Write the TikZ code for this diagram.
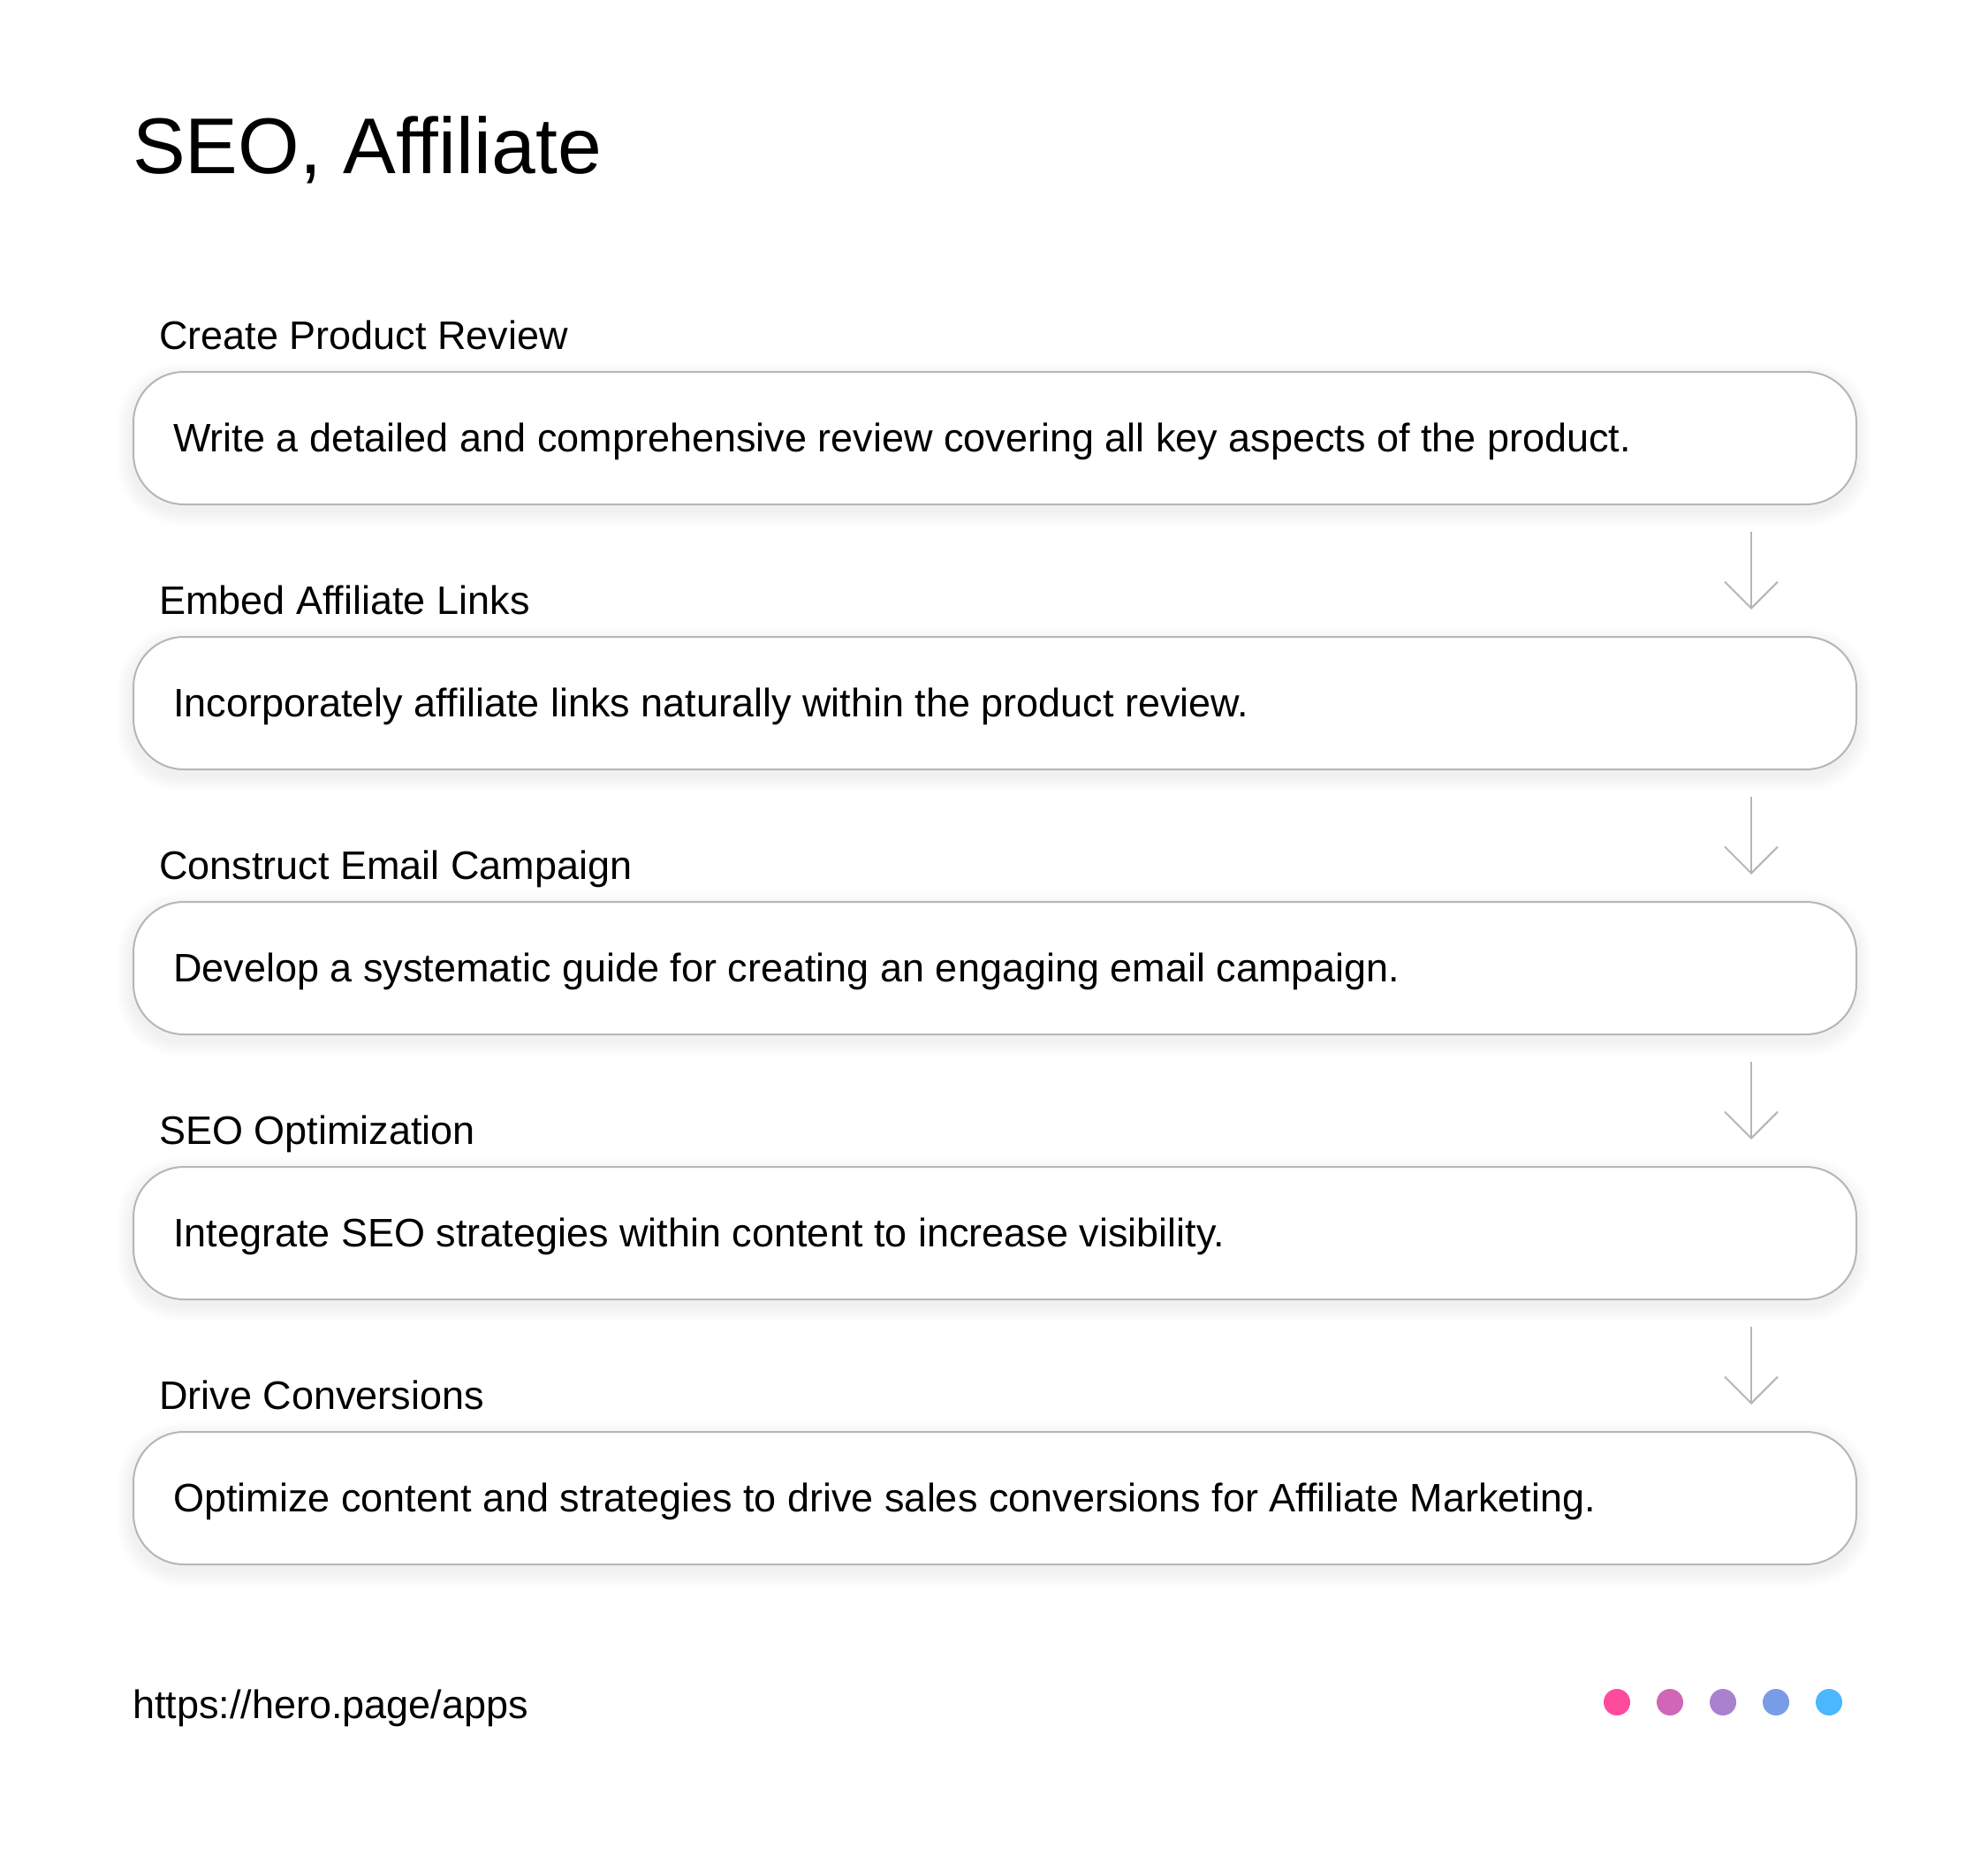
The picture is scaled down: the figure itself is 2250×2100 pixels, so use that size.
\documentclass[tikz,border=0pt]{standalone}
\usepackage{fontspec}
\setmainfont{Liberation Sans}
\usetikzlibrary{arrows.meta,calc}
\definecolor{edgegray}{RGB}{182,182,182}
\definecolor{dotA}{RGB}{255,75,155}
\definecolor{dotB}{RGB}{208,102,182}
\definecolor{dotC}{RGB}{168,130,205}
\definecolor{dotD}{RGB}{120,156,230}
\definecolor{dotE}{RGB}{75,183,255}
\tikzset{
  stepbox/.style={draw=edgegray, line width=2pt, fill=white, rounded corners=57pt,
    minimum width=1949pt, minimum height=150pt, inner sep=0pt, anchor=north west},
  steplabel/.style={anchor=base west, inner sep=0pt, font=\fontsize{45}{54}\selectfont},
  steptext/.style={anchor=base west, inner sep=0pt, font=\fontsize{45}{54}\selectfont},
  conn/.style={draw=edgegray, line width=2pt, -{Straight Barb[length=30pt,width=60pt]}},
  dotnode/.style={circle, minimum size=30pt, inner sep=0pt},
}
\begin{document}
\begin{tikzpicture}[x=1pt,y=-1pt]
\useasboundingbox[fill=white] (0,0) rectangle (2250,2100);
\node[anchor=base west, inner sep=0pt, font=\fontsize{89.5}{100}\selectfont] (title) at (150,197) {SEO, Affiliate};

\foreach \i/\lab/\txt in {
  1/Create Product Review/Write a detailed and comprehensive review covering all key aspects of the product.,
  2/Embed Affiliate Links/Incorporately affiliate links naturally within the product review.,
  3/Construct Email Campaign/Develop a systematic guide for creating an engaging email campaign.,
  4/SEO Optimization/Integrate SEO strategies within content to increase visibility.,
  5/Drive Conversions/Optimize content and strategies to drive sales conversions for Affiliate Marketing.}{
  \pgfmathsetmacro{\ytop}{420+300*(\i-1)}
  \node[steplabel] (l\i) at (180,\ytop-25) {\lab};
  \foreach \k in {1,...,7}{
    \fill[black, opacity=0.008, rounded corners=57pt+\k*2pt]
      (150-\k*2.5, \ytop+8-\k*2.5) rectangle (2100+\k*2.5, \ytop+158+\k*2.5);
  }
  \node[stepbox, minimum width=1950pt] (b\i) at (150,\ytop) {};
  \node[steptext] (t\i) at (196,\ytop+91) {\txt};
}

\foreach \i [evaluate=\i as \j using int(\i+1)] in {1,...,4}{
  \draw[conn] ($(b\i.south east)+(-120,30)$) -- ($(b\j.north east)+(-120,-30)$);
}

\node[anchor=base west, inner sep=0pt, font=\fontsize{45}{54}\selectfont] (footer) at (150,1945) {https://hero.page/apps};
\node[dotnode, fill=dotA] (d1) at (1830,1927) {};
\node[dotnode, fill=dotB] (d2) at (1890,1927) {};
\node[dotnode, fill=dotC] (d3) at (1950,1927) {};
\node[dotnode, fill=dotD] (d4) at (2010,1927) {};
\node[dotnode, fill=dotE] (d5) at (2070,1927) {};
\end{tikzpicture}
\end{document}
